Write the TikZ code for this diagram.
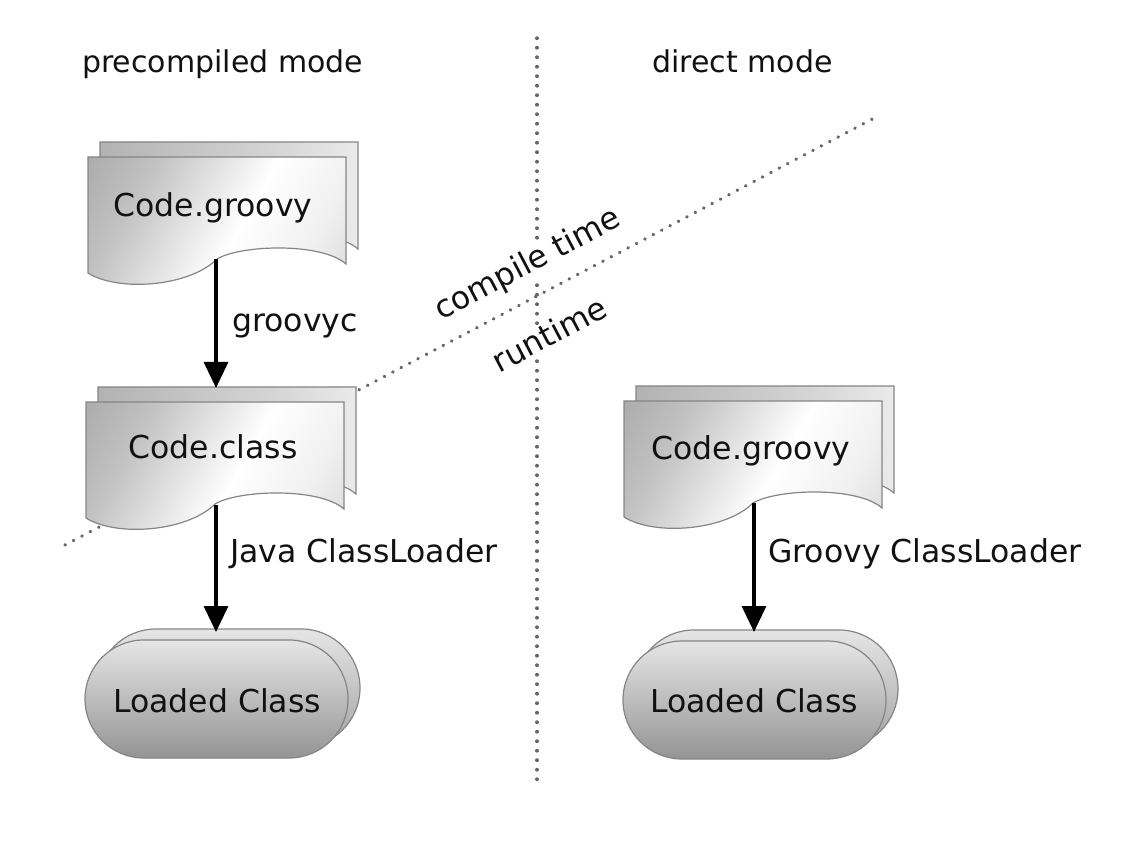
\documentclass[tikz,border=0pt]{standalone}
\usepackage{fontspec}
\setmainfont{DejaVu Sans}
\usetikzlibrary{arrows.meta}
\definecolor{docline}{HTML}{858585}
\definecolor{dotgray}{HTML}{666666}
\definecolor{ink}{HTML}{111111}
\pgfdeclarehorizontalshading{docfront}{100bp}{color(0bp)=(black!42); color(30bp)=(black!24); color(55bp)=(white); color(72bp)=(black!6); color(100bp)=(black!26)}
\pgfdeclarehorizontalshading{docback}{100bp}{color(0bp)=(black!40); color(60bp)=(black!16); color(90bp)=(white); color(100bp)=(black!22)}
\newcommand\docoutline{(0,0) -- (258,0) -- (258,107) .. controls (233,85) and (152,88) .. (129,102) .. controls (101,130) and (30,135) .. (0,116) -- cycle}
\tikzset{
  lbl/.style={font=\fontsize{31.5}{36}\selectfont, text=ink, inner sep=0pt},
  ttl/.style={font=\fontsize{30}{36}\selectfont, text=ink, inner sep=0pt},
  divider/.style={draw=dotgray, line width=3.4pt, line cap=round, dash pattern=on 0.4pt off 9.1pt},
  flow/.style={draw=black, line width=3.2pt, -{Triangle[length=26pt,width=24pt]}},
  docedge/.style={draw=docline, line width=1.2pt},
  docstack/.pic={
    \begin{scope}[shift={(12,-15)}]
      \shadedraw[docedge, shading=docback] \docoutline;
    \end{scope}
    \shadedraw[docedge, shading=docfront, shading angle=-30] \docoutline;
  },
  pillstack/.pic={
    \shadedraw[docedge, top color=black!10, bottom color=black!36, rounded corners=58.9pt] (12,-11) rectangle (275,107);
    \shadedraw[docedge, top color=black!10, bottom color=black!42, rounded corners=58.9pt] (0,0) rectangle (263,118);
  }
}
\begin{document}
\begin{tikzpicture}[x=1pt,y=-1pt]
\useasboundingbox (0,0) rectangle (1136,842);
% dividers
\coordinate (vtop) at (537,38);
\coordinate (vbot) at (537,780);
\coordinate (dstart) at (65,545);
\coordinate (dend) at (880,115);
\draw[divider] (vtop) -- (vbot);
\draw[divider] (dstart) -- (dend);
% titles
\node[ttl, anchor=base west] (precomp) at (82,73) {precompiled mode};
\node[ttl, anchor=base west] (direct) at (652,73) {direct mode};
% shapes
\pic at (88,157) {docstack};
\pic at (86,402) {docstack};
\pic at (624,401) {docstack};
\pic at (85,640) {pillstack};
\pic at (623,641) {pillstack};
% shape texts
\node[lbl, anchor=base] (g1) at (213,217) {Code.groovy};
\node[lbl, anchor=base] (c1) at (213,458) {Code.class};
\node[lbl, anchor=base] (l1) at (217,712) {Loaded Class};
\node[lbl, anchor=base] (g2) at (751,459) {Code.groovy};
\node[lbl, anchor=base] (l2) at (754,712) {Loaded Class};
% divider labels
\node[lbl, fill=white, inner sep=1pt, rotate=27.8] (ct) at (528,265) {compile time};
\node[lbl, fill=white, inner sep=1pt, rotate=27.8] (rt) at (549,334) {runtime};
% connectors
\coordinate (g1out) at (216,259);
\coordinate (c1in) at (216,388);
\coordinate (c1out) at (216,505);
\coordinate (l1in) at (216,632);
\coordinate (g2out) at (754,503);
\coordinate (l2in) at (754,632);
\draw[flow] (g1out) -- (c1in);
\draw[flow] (c1out) -- (l1in);
\draw[flow] (g2out) -- (l2in);
% connector labels
\node[lbl, anchor=base west] (gc) at (232,332) {groovyc};
\node[lbl, anchor=base west] (jcl) at (230,562) {Java ClassLoader};
\node[lbl, anchor=base west] (gcl) at (768,562) {Groovy ClassLoader};
\end{tikzpicture}
\end{document}
